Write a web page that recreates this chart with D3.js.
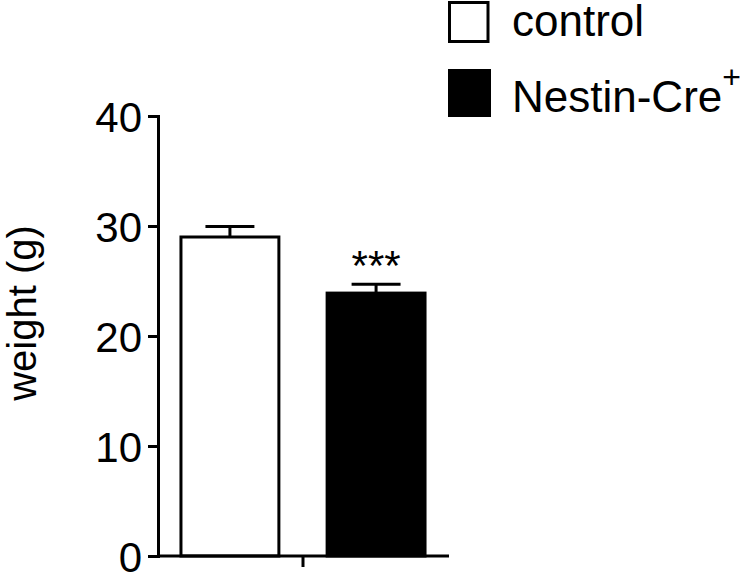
<!DOCTYPE html>
<html>
<head>
<meta charset="utf-8">
<script src="https://cdn.jsdelivr.net/npm/d3@7"></script>
<style>
body { margin: 0; background: #fff; }
text { font-family: "Liberation Sans", Arial, sans-serif; fill: #000; }
</style>
</head>
<body>
<script>
// values
var groups = ["control", "Nestin-Cre"];
var means = [29.0, 23.9];
var sems = [0.95, 0.8];
var fills = ["#fff", "#000"];
var yTicks = [0, 10, 20, 30, 40];

var svg = d3.select("body")
  .append("svg")
  .attr("width", 746)
  .attr("height", 572);

var y = d3.scaleLinear().domain([0, 40]).range([556, 116]);
var x = d3.scaleBand().domain(groups).range([157, 449])
  .paddingInner(0.33).paddingOuter(0.164);

// y axis
var yAxis = svg.append("g")
  .attr("transform", "translate(158,0)")
  .call(d3.axisLeft(y).tickValues(yTicks).tickSize(10).tickPadding(6));
yAxis.select(".domain").attr("stroke-width", 3);
yAxis.selectAll(".tick line").attr("stroke-width", 3);
yAxis.selectAll(".tick text")
  .style("font-size", "42px")
  .attr("dy", "0.36em");

// bars
svg.selectAll("rect.bar")
  .data(groups)
  .enter()
  .append("rect")
  .attr("class", "bar")
  .attr("x", function(d) { return x(d); })
  .attr("y", function(d, i) { return y(means[i]); })
  .attr("width", x.bandwidth())
  .attr("height", function(d, i) { return y(0) - y(means[i]); })
  .attr("fill", function(d, i) { return fills[i]; })
  .attr("stroke", "#000")
  .attr("stroke-width", 3);

// error bars (upper only)
var err = svg.selectAll("g.err")
  .data(groups)
  .enter()
  .append("g")
  .attr("class", "err")
  .attr("stroke", "#000")
  .attr("stroke-width", 3);
err.append("line")
  .attr("x1", function(d) { return x(d) + x.bandwidth() / 2; })
  .attr("x2", function(d) { return x(d) + x.bandwidth() / 2; })
  .attr("y1", function(d, i) { return y(means[i]); })
  .attr("y2", function(d, i) { return y(means[i] + sems[i]); });
err.append("line")
  .attr("x1", function(d) { return x(d) + x.bandwidth() / 4; })
  .attr("x2", function(d) { return x(d) + x.bandwidth() * 3 / 4; })
  .attr("y1", function(d, i) { return y(means[i] + sems[i]); })
  .attr("y2", function(d, i) { return y(means[i] + sems[i]); });

// x axis: plain line with one centre tick
svg.append("line")
  .attr("x1", 157).attr("x2", 449)
  .attr("y1", y(0)).attr("y2", y(0))
  .attr("stroke", "#000").attr("stroke-width", 3);
svg.append("line")
  .attr("x1", 303).attr("x2", 303)
  .attr("y1", y(0)).attr("y2", y(0) + 11)
  .attr("stroke", "#000").attr("stroke-width", 3);

// significance stars
svg.append("text")
  .attr("x", x(groups[1]) + x.bandwidth() / 2)
  .attr("y", y(means[1] + sems[1]) - 4)
  .attr("text-anchor", "middle")
  .style("font-size", "42px")
  .text("***");

// y label
svg.append("text")
  .attr("transform", "translate(36,313) rotate(-90)")
  .attr("text-anchor", "middle")
  .style("font-size", "40px")
  .text("weight (g)");

// legend
var leg = svg.selectAll("g.leg")
  .data(groups)
  .enter()
  .append("g")
  .attr("class", "leg")
  .attr("transform", function(d, i) { return "translate(0," + (36 + i * 76) + ")"; });
leg.append("rect")
  .attr("x", function(d, i) { return i === 0 ? 449.5 : 448; })
  .attr("y", function(d, i) { return i === 0 ? -33.5 : -43; })
  .attr("width", function(d, i) { return i === 0 ? 38.5 : 43; })
  .attr("height", function(d, i) { return i === 0 ? 39 : 48; })
  .attr("fill", function(d, i) { return fills[i]; })
  .attr("stroke", function(d, i) { return i === 0 ? "#000" : "none"; })
  .attr("stroke-width", 3);
var lt = leg.append("text")
  .attr("x", 512).attr("y", 0)
  .style("font-size", "44px")
  .text(function(d) { return d; });
lt.filter(function(d, i) { return i === 1; })
  .append("tspan")
  .attr("dy", -24)
  .style("font-size", "32px")
  .text("+");
</script>
</body>
</html>
